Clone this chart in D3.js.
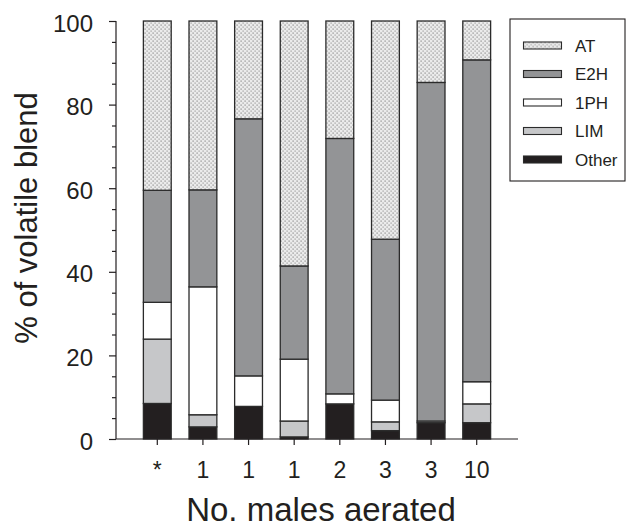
<!DOCTYPE html>
<html>
<head>
<meta charset="utf-8">
<script src="https://cdn.jsdelivr.net/npm/d3@7"></script>
<style>
  html, body { margin: 0; padding: 0; background: #fff; }
  svg { display: block; }
  text { font-family: "Liberation Sans", Arial, Helvetica, sans-serif; fill: #231f20; }
</style>
</head>
<body>
<svg id="chart" width="627" height="529"></svg>
<script>
// ---- data ----
const categories = ["*", "1", "1", "1", "2", "3", "3", "10"];
const seriesKeys = ["Other", "LIM", "1PH", "E2H", "AT"];
const other = [8.5, 2.9, 7.8, 0.5, 8.4, 2.0, 3.9, 3.9];
const lim   = [15.4, 2.9, 0.0, 3.8, 0.0, 2.1, 0.0, 4.5];
const ph1   = [8.8, 30.6, 7.3, 14.8, 2.4, 5.2, 0.4, 5.3];
const e2h   = [26.8, 23.2, 61.5, 22.3, 61.1, 38.5, 81.0, 77.0];
const at    = [40.5, 40.4, 23.4, 58.6, 28.1, 52.2, 14.7, 9.3];
const yTicks = [0, 20, 40, 60, 80, 100];
const yMinorTicks = [5, 10, 15, 25, 30, 35, 45, 50, 55, 65, 70, 75, 85, 90, 95];
const legendOrder = ["AT", "E2H", "1PH", "LIM", "Other"];

// table built from the arrays
const rows = categories.map((c, i) => ({
  idx: i, label: c,
  "Other": other[i], "LIM": lim[i], "1PH": ph1[i], "E2H": e2h[i], "AT": at[i]
}));

const svg = d3.select("#chart");
const defs = svg.append("defs");
const pat = defs.append("pattern")
  .attr("id", "dots").attr("patternUnits", "userSpaceOnUse")
  .attr("width", 4).attr("height", 4);
pat.append("rect").attr("width", 4).attr("height", 4).attr("fill", "#ebebeb");
pat.append("rect").attr("x", 0.5).attr("y", 0.5).attr("width", 1.2).attr("height", 1.2).attr("fill", "#858585");
pat.append("rect").attr("x", 2.5).attr("y", 2.5).attr("width", 1.2).attr("height", 1.2).attr("fill", "#9a9a9a");

const fills = { "AT": "url(#dots)", "E2H": "#939496", "1PH": "#ffffff", "LIM": "#c6c7c9", "Other": "#231f20" };

const x0 = 116, x1 = 518, yTop = 21, yBot = 439;
const x = d3.scaleBand().domain(rows.map(d => d.idx)).range([x0, x1])
  .paddingInner(0.39).paddingOuter(0.6);
const y = d3.scaleLinear().domain([0, 100]).range([yBot, yTop]);

const stack = d3.stack().keys(seriesKeys);
const stacked = stack(rows);

const g = svg.append("g");
g.selectAll("g.series").data(stacked).join("g")
  .attr("class", "series")
  .attr("fill", d => fills[d.key])
  .selectAll("rect").data(d => d).join("rect")
  .attr("x", d => x(d.data.idx))
  .attr("width", x.bandwidth())
  .attr("y", d => y(d[1]))
  .attr("height", d => Math.max(0, y(d[0]) - y(d[1])))
  .attr("stroke", "#2b2b2b")
  .attr("stroke-width", 1.3);

// y axis
const yAxis = d3.axisLeft(y).tickValues(yTicks).tickSize(7).tickPadding(16)
  .tickFormat(d3.format("d"));
const ya = svg.append("g").attr("transform", `translate(${x0},0)`).call(yAxis);
ya.select(".domain").attr("d", `M0,${yTop}V${yBot}`);
const yMinor = d3.axisLeft(y).tickValues(yMinorTicks).tickSize(4).tickFormat("");
const ym = svg.append("g").attr("transform", `translate(${x0},0)`).call(yMinor);
ym.select(".domain").remove();
ya.selectAll("text").attr("font-size", 24).attr("dy", "0.42em")
  .style("font-family", '"Liberation Sans", Arial, sans-serif');

// x axis
const xAxis = d3.axisBottom(x).tickSize(6).tickPadding(17)
  .tickFormat(i => categories[i]);
const xa = svg.append("g").attr("transform", `translate(0,${yBot})`).call(xAxis);
xa.select(".domain").attr("d", `M${x0},0H${x1}`);
xa.selectAll("text").attr("font-size", 23)
  .style("font-family", '"Liberation Sans", Arial, sans-serif');

svg.selectAll(".domain, .tick line").attr("stroke", "#231f20").attr("stroke-width", 1.2);

// axis titles
svg.append("text").attr("x", 321).attr("y", 521).attr("text-anchor", "middle")
  .attr("font-size", 33).text("No. males aerated");
svg.append("text").attr("transform", "translate(37,218) rotate(-90)")
  .attr("text-anchor", "middle").attr("font-size", 31).text("% of volatile blend");

// legend
const lg = svg.append("g");
lg.append("rect").attr("x", 510).attr("y", 19).attr("width", 115).attr("height", 162)
  .attr("fill", "#fff").attr("stroke", "#231f20").attr("stroke-width", 1.1);
const li = lg.selectAll("g.li").data(legendOrder).join("g").attr("class", "li")
  .attr("transform", (d, i) => `translate(0,${45.5 + i * 28.5})`);
li.append("rect").attr("x", 523.5).attr("y", -3.5).attr("width", 38).attr("height", 7)
  .attr("fill", d => fills[d]).attr("stroke", "#2b2b2b").attr("stroke-width", 1.1);
li.append("text").attr("x", 575).attr("y", 0).attr("dy", "0.36em")
  .attr("font-size", 17).text(d => d);
</script>
</body>
</html>
